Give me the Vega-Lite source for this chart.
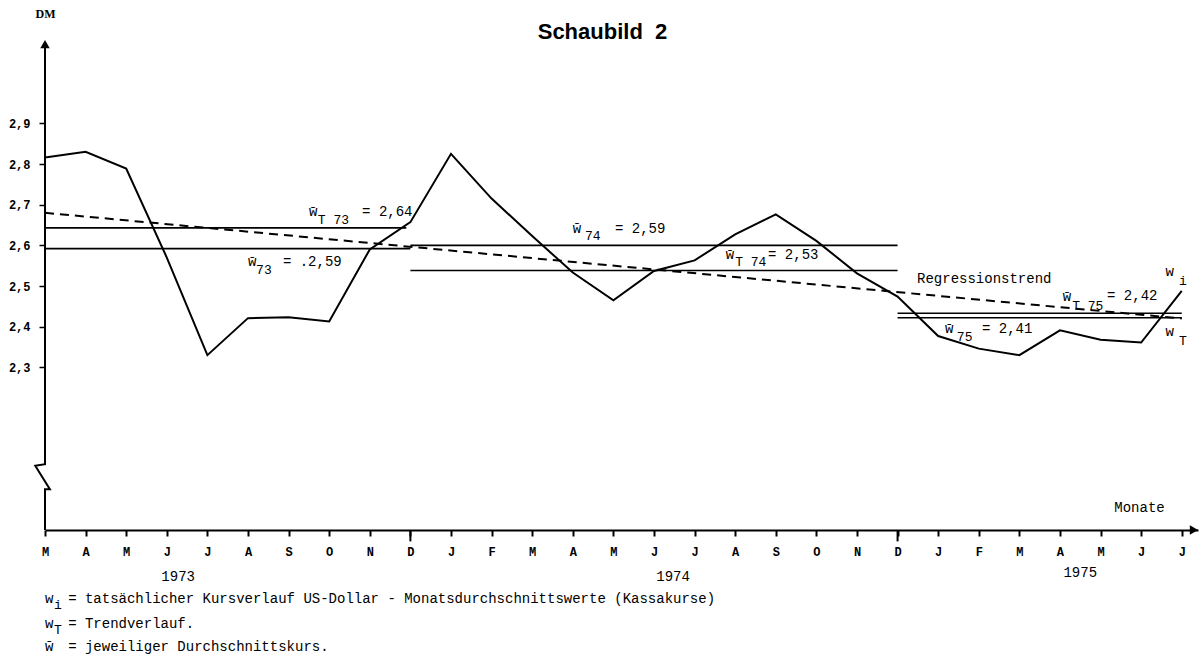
{
  "$schema": "https://vega.github.io/schema/vega-lite/v6.json",
  "width": 1153,
  "height": 488,
  "autosize": {"type": "none"},
  "padding": {"left": 45, "top": 42, "right": 4, "bottom": 130},
  "background": "white",
  "config": {"view": {"stroke": null}, "font": "Liberation Mono"},
  "title": {"text": "Schaubild\u00a0 2", "font": "Liberation Sans", "fontSize": 22, "fontWeight": "bold", "color": "black", "anchor": "middle", "frame": "group", "dx": -19, "offset": 0, "dy": 37},
  "datasets": {
    "kurs": [
      {"i": 0, "v": 2.816}, {"i": 1, "v": 2.83}, {"i": 2, "v": 2.789}, {"i": 3, "v": 2.57},
      {"i": 4, "v": 2.33}, {"i": 5, "v": 2.421}, {"i": 6, "v": 2.423}, {"i": 7, "v": 2.413},
      {"i": 8, "v": 2.59}, {"i": 9, "v": 2.657}, {"i": 10, "v": 2.825}, {"i": 11, "v": 2.715},
      {"i": 12, "v": 2.623}, {"i": 13, "v": 2.533}, {"i": 14, "v": 2.465}, {"i": 15, "v": 2.537},
      {"i": 16, "v": 2.563}, {"i": 17, "v": 2.627}, {"i": 18, "v": 2.676}, {"i": 19, "v": 2.611},
      {"i": 20, "v": 2.531}, {"i": 21, "v": 2.474}, {"i": 22, "v": 2.377}, {"i": 23, "v": 2.346},
      {"i": 24, "v": 2.33}, {"i": 25, "v": 2.391}, {"i": 26, "v": 2.368}, {"i": 27, "v": 2.361},
      {"i": 28, "v": 2.488}
    ],
    "trend": [{"i": 0, "v": 2.68}, {"i": 28, "v": 2.42}],
    "means": [
      {"name": "wT73", "i": 0, "i2": 8.9, "v": 2.643},
      {"name": "w73", "i": 0, "i2": 9, "v": 2.592},
      {"name": "w74", "i": 9, "i2": 21, "v": 2.6},
      {"name": "wT74", "i": 9, "i2": 21, "v": 2.538},
      {"name": "wT75", "i": 21, "i2": 28, "v": 2.433},
      {"name": "w75", "i": 21, "i2": 28, "v": 2.422}
    ],
    "yaxis": [
      {"o": 1, "i": 0, "v": 3.1}, {"o": 2, "i": 0, "v": 2.062}, {"o": 3, "i": -0.24, "v": 2.058},
      {"o": 4, "i": 0.12, "v": 2.0}, {"o": 5, "i": 0, "v": 2.0}, {"o": 6, "i": 0, "v": 1.9}
    ],
    "dticks": [{"i": 9, "v": 1.9, "v2": 1.872}, {"i": 21, "v": 1.9, "v2": 1.872}],
    "arrows": [{"i": 0, "v": 3.095, "dir": "up"}, {"i": 28.3, "v": 1.9, "dir": "right"}],
    "notes": [
      {"kind": "main", "i": 6.5, "v": 2.681, "t": "w\u0304"},
      {"kind": "main", "i": 7.81, "v": 2.681, "t": "= 2,64"},
      {"kind": "main", "i": 5.0, "v": 2.558, "t": "w\u0304"},
      {"kind": "main", "i": 5.86, "v": 2.558, "t": "= .2,59"},
      {"kind": "main", "i": 13.0, "v": 2.64, "t": "w\u0304"},
      {"kind": "main", "i": 14.04, "v": 2.64, "t": "= 2,59"},
      {"kind": "main", "i": 16.77, "v": 2.576, "t": "w\u0304"},
      {"kind": "main", "i": 17.81, "v": 2.576, "t": "= 2,53"},
      {"kind": "main", "i": 21.48, "v": 2.517, "t": "Regressionstrend"},
      {"kind": "main", "i": 25.07, "v": 2.472, "t": "w\u0304"},
      {"kind": "main", "i": 26.16, "v": 2.475, "t": "= 2,42"},
      {"kind": "main", "i": 22.17, "v": 2.394, "t": "w\u0304"},
      {"kind": "main", "i": 23.08, "v": 2.394, "t": "= 2,41"},
      {"kind": "main", "i": 27.6, "v": 2.534, "t": "w"},
      {"kind": "main", "i": 27.6, "v": 2.386, "t": "w"},
      {"kind": "sub", "i": 6.72, "v": 2.662, "t": "T 73"},
      {"kind": "sub", "i": 5.2, "v": 2.539, "t": "73"},
      {"kind": "sub", "i": 13.3, "v": 2.622, "t": "74"},
      {"kind": "sub", "i": 17.0, "v": 2.558, "t": "T 74"},
      {"kind": "sub", "i": 25.3, "v": 2.45, "t": "T 75"},
      {"kind": "sub", "i": 22.46, "v": 2.374, "t": "75"},
      {"kind": "sub", "i": 27.93, "v": 2.512, "t": "i"},
      {"kind": "sub", "i": 27.93, "v": 2.364, "t": "T"},
      {"kind": "main", "i": 0, "v": 1.7305, "t": "w"},
      {"kind": "main", "i": 0.57, "v": 1.7305, "t": "= tatsächlicher Kursverlauf US-Dollar - Monatsdurchschnittswerte (Kassakurse)"},
      {"kind": "main", "i": 0, "v": 1.669, "t": "w"},
      {"kind": "main", "i": 0.57, "v": 1.669, "t": "= Trendverlauf."},
      {"kind": "main", "i": 0, "v": 1.6125, "t": "w\u0304"},
      {"kind": "main", "i": 0.57, "v": 1.6125, "t": "= jeweiliger Durchschnittskurs."},
      {"kind": "sub", "i": 0.22, "v": 1.716, "t": "i"},
      {"kind": "sub", "i": 0.22, "v": 1.655, "t": "T"},
      {"kind": "year", "i": 3.28, "v": 1.785, "t": "1973"},
      {"kind": "year", "i": 15.47, "v": 1.785, "t": "1974"},
      {"kind": "year", "i": 25.5, "v": 1.794, "t": "1975"}
    ]
  },
  "layer": [
    {
      "data": {"name": "kurs"},
      "mark": {"type": "line", "color": "black", "strokeWidth": 2, "clip": false},
      "encoding": {
        "x": {"field": "i", "type": "quantitative", "scale": {"domain": [0, 28.4], "nice": false, "zero": false},
          "axis": {"values": [0,1,2,3,4,5,6,7,8,9,10,11,12,13,14,15,16,17,18,19,20,21,22,23,24,25,26,27,28],
            "labelExpr": "['M','A','M','J','J','A','S','O','N','D','J','F','M','A','M','J','J','A','S','O','N','D','J','F','M','A','M','J','J'][datum.value]",
            "domain": true, "domainColor": "black", "domainWidth": 2, "ticks": true, "tickSize": 6, "tickWidth": 2, "tickColor": "black",
            "labelFont": "Liberation Mono", "labelFontWeight": "bold", "labelFontSize": 12, "labelColor": "black", "labelPadding": 10,
            "labelFlush": false, "labelOverlap": false, "grid": false,
            "title": "Monate", "titleX": 1094, "titleY": -23, "titleAlign": "center", "titleBaseline": "middle",
            "titleFont": "Liberation Mono", "titleFontWeight": "normal", "titleFontSize": 14, "titleColor": "black"}},
        "y": {"field": "v", "type": "quantitative", "scale": {"domain": [1.9, 3.1], "nice": false, "zero": false},
          "axis": {"values": [2.3, 2.4, 2.5, 2.6, 2.7, 2.8, 2.9],
            "labelExpr": "replace(format(datum.value, '.1f'), '.', ',')",
            "domain": false, "grid": false, "ticks": true, "tickSize": 6, "tickWidth": 1.5, "tickColor": "black",
            "labelFont": "Liberation Mono", "labelFontWeight": "bold", "labelFontSize": 12, "labelColor": "black", "labelPadding": 9,
            "title": "DM", "titleAngle": 0, "titleX": 0, "titleY": -29, "titleAlign": "center", "titleBaseline": "middle",
            "titleFont": "Liberation Serif", "titleFontWeight": "bold", "titleFontSize": 12, "titleColor": "black"}}
      }
    },
    {
      "data": {"name": "trend"},
      "mark": {"type": "line", "color": "black", "strokeWidth": 2, "strokeDash": [9, 6]},
      "encoding": {"x": {"field": "i", "type": "quantitative"}, "y": {"field": "v", "type": "quantitative"}}
    },
    {
      "data": {"name": "means"},
      "mark": {"type": "rule", "color": "black", "strokeWidth": 1.6},
      "encoding": {"x": {"field": "i", "type": "quantitative"}, "x2": {"field": "i2"}, "y": {"field": "v", "type": "quantitative"}}
    },
    {
      "data": {"name": "yaxis"},
      "mark": {"type": "line", "color": "black", "strokeWidth": 2, "clip": false},
      "encoding": {"x": {"field": "i", "type": "quantitative"}, "y": {"field": "v", "type": "quantitative"}, "order": {"field": "o"}}
    },
    {
      "data": {"name": "dticks"},
      "mark": {"type": "rule", "color": "black", "strokeWidth": 2},
      "encoding": {"x": {"field": "i", "type": "quantitative"}, "y": {"field": "v", "type": "quantitative"}, "y2": {"field": "v2"}}
    },
    {
      "data": {"name": "arrows"},
      "mark": {"type": "point", "filled": true, "color": "black", "opacity": 1, "size": 90},
      "encoding": {"x": {"field": "i", "type": "quantitative"}, "y": {"field": "v", "type": "quantitative"},
        "shape": {"field": "dir", "type": "nominal", "scale": {"domain": ["up", "right"], "range": ["triangle-up", "triangle-right"]}, "legend": null}}
    },
    {
      "data": {"name": "notes"},
      "transform": [{"filter": "datum.kind === 'main'"}],
      "mark": {"type": "text", "font": "Liberation Mono", "fontSize": 14, "align": "left", "baseline": "middle", "color": "black"},
      "encoding": {"x": {"field": "i", "type": "quantitative"}, "y": {"field": "v", "type": "quantitative"}, "text": {"field": "t"}}
    },
    {
      "data": {"name": "notes"},
      "transform": [{"filter": "datum.kind === 'sub'"}],
      "mark": {"type": "text", "font": "Liberation Mono", "fontSize": 13, "align": "left", "baseline": "middle", "color": "black"},
      "encoding": {"x": {"field": "i", "type": "quantitative"}, "y": {"field": "v", "type": "quantitative"}, "text": {"field": "t"}}
    },
    {
      "data": {"name": "notes"},
      "transform": [{"filter": "datum.kind === 'year'"}],
      "mark": {"type": "text", "font": "Liberation Mono", "fontSize": 14, "align": "center", "baseline": "middle", "color": "black"},
      "encoding": {"x": {"field": "i", "type": "quantitative"}, "y": {"field": "v", "type": "quantitative"}, "text": {"field": "t"}}
    }
  ]
}
